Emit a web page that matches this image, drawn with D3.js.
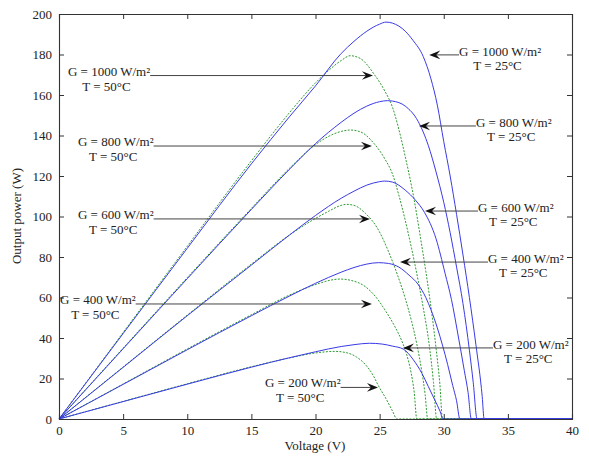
<!DOCTYPE html>
<meta charset="utf-8">
<script src="https://d3js.org/d3.v7.min.js"></script>
<style>
  body { margin: 0; background: #fff; }
  text { font-family: "Liberation Serif", "Times New Roman", serif; fill: #222; }
</style>
<div id="chart"></div>
<script>

// ---- data: voltage (V) and output power (W) ----
// T = 25 C (blue, solid)
var v1000a = [0, 5, 10, 15, 18, 20, 22, 23, 24, 25, 25.5, 26, 27, 27.6, 28.4, 29, 29.5, 30, 30.5, 31, 31.5, 32, 32.5, 33, 33.15, 40];
var p1000a = [0, 42.2, 84.3, 126, 149.5, 164.5, 180.5, 186.5, 191.5, 195, 196, 195.5, 191.5, 187, 179, 168, 155, 137, 120, 101, 81, 60, 37, 11, 0, 0];
var v800a = [0, 5, 10, 15, 18, 20, 22, 23, 24, 25, 25.6, 26, 27, 28, 28.8, 29.4, 30, 30.5, 31, 31.5, 32, 32.3, 32.6, 40];
var p800a = [0, 34.7, 69.3, 103.5, 123.5, 136, 146.5, 151, 154.5, 156.7, 157.2, 157, 154.5, 147, 135, 122, 107, 92, 75, 57, 34, 18, 0, 0];
var v600a = [0, 5, 10, 15, 18, 20, 22, 23, 24, 25, 25.4, 26, 27, 27.8, 28.5, 29.4, 30.1, 30.6, 31.1, 31.6, 31.9, 32.15, 40];
var p600a = [0, 25.5, 51, 76, 91, 100.5, 109, 112.5, 115.5, 117.2, 117.5, 117, 113, 108, 102, 89, 72, 59, 42, 24, 13, 0, 0];
var v400a = [0, 5, 10, 15, 18, 20, 22, 23, 24, 24.9, 25.7, 26.5, 27.3, 28, 28.6, 29, 29.5, 29.9, 30.3, 30.7, 31, 31.26, 40];
var p400a = [0, 17.1, 34.2, 51, 60.8, 67, 72.5, 74.8, 76.5, 77.2, 76.8, 75, 71, 66.5, 60, 54, 45, 36.5, 27, 16.5, 9, 0, 0];
var v200a = [0, 5, 10, 15, 18, 20, 22, 23, 24.2, 25.2, 26, 26.85, 27.6, 28.3, 28.8, 29.3, 29.7, 29.95, 40];
var p200a = [0, 8.6, 17.2, 25.6, 30.3, 33.2, 35.8, 36.7, 37.4, 37, 36, 34.5, 29.5, 22.5, 16, 9.4, 4, 0, 0];

// T = 50 C (green, dotted)
var v1000b = [0, 5, 10, 15, 18, 20, 21, 22, 22.7, 23.5, 24.6, 25.4, 26, 26.5, 27, 27.7, 28.2, 28.6, 28.9, 29.4, 29.7, 29.9, 40];
var p1000b = [0, 42.7, 85.3, 127.5, 151.5, 166, 172, 177, 179.4, 178, 170, 162, 154, 143, 129.5, 108, 89, 73, 60, 35, 17, 0, 0];
var v800b = [0, 5, 10, 15, 18, 20, 21, 22, 22.7, 23.5, 24.5, 25.4, 26, 26.5, 27, 27.5, 28, 28.4, 28.9, 29.2, 29.45, 40];
var p800b = [0, 35, 69.8, 104, 124, 135.5, 139.5, 142, 142.7, 141.8, 136.5, 128.5, 121, 110.5, 98, 84, 68.5, 55, 35, 18, 0, 0];
var v600b = [0, 5, 10, 15, 18, 19.8, 21, 22, 22.4, 23, 23.9, 24.8, 25.8, 26.4, 27, 27.5, 27.9, 28.3, 28.55, 28.75, 40];
var p600b = [0, 25.7, 51.3, 76.5, 91, 98.3, 102.5, 105.5, 106, 105.5, 101.5, 94.5, 81, 71, 59.5, 48, 37, 23, 12, 0, 0];
var v400b = [0, 5, 10, 15, 18, 20.3, 21.2, 21.9, 22.8, 23.9, 24.8, 25.5, 26.2, 26.7, 27.1, 27.45, 27.7, 27.9, 40];
var p400b = [0, 17.3, 34.6, 51.5, 61.3, 67, 68.6, 69.1, 68.4, 65.3, 59.5, 53, 45.5, 39, 32, 23, 13, 0, 0];
var v200b = [0, 5, 10, 15, 18, 20, 21.5, 22.5, 23.2, 23.9, 24.5, 24.9, 25.5, 26, 26.35, 40];
var p200b = [0, 8.7, 17.4, 25.8, 30.2, 32.6, 33.4, 32.6, 30.6, 26.8, 21.5, 16.5, 10, 4, 0, 0];

// axis ticks
var xTicks = [0, 5, 10, 15, 20, 25, 30, 35, 40];
var yTicks = [0, 20, 40, 60, 80, 100, 120, 140, 160, 180, 200];

// annotation texts
var gLabels = ["G = 1000 W/m²", "G = 800 W/m²", "G = 600 W/m²", "G = 400 W/m²", "G = 200 W/m²"];
var tLeft = "T = 50°C";
var tRight = "T = 25°C";

// ---- layout ----
var W = 589, H = 464;
var x0 = 59, x1 = 572, y0 = 419, y1 = 14;

var svg = d3.select("#chart").append("svg")
    .attr("width", W)
    .attr("height", H);

var x = d3.scaleLinear().domain([0, 40]).range([x0, x1]);
var y = d3.scaleLinear().domain([0, 200]).range([y0, y1]);

// curves
var line = d3.line()
    .x(function(d) { return x(d[0]); })
    .y(function(d) { return y(d[1]); })
    .curve(d3.curveMonotoneX);

function pairs(v, p) { return v.map(function(d, i) { return [d, p[i]]; }); }

var hot = [[v1000b, p1000b], [v800b, p800b], [v600b, p600b], [v400b, p400b], [v200b, p200b]];
var cold = [[v1000a, p1000a], [v800a, p800a], [v600a, p600a], [v400a, p400a], [v200a, p200a]];

hot.forEach(function(s) {
  svg.append("path")
    .datum(pairs(s[0], s[1]))
    .attr("d", line)
    .attr("fill", "none")
    .attr("stroke", "#2f9a34")
    .attr("stroke-width", 1)
    .attr("stroke-dasharray", "2,1.4");
});

cold.forEach(function(s) {
  svg.append("path")
    .datum(pairs(s[0], s[1]))
    .attr("d", line)
    .attr("fill", "none")
    .attr("stroke", "#3a3ae6")
    .attr("stroke-width", 1);
});

// axes box with inward ticks on all four sides (matlab style)
var tickLen = 5;
svg.append("g").attr("transform", "translate(0," + y0 + ")")
  .call(d3.axisBottom(x).tickValues(xTicks).tickSize(-tickLen).tickPadding(7).tickFormat(d3.format("d")));
svg.append("g").attr("transform", "translate(0," + y1 + ")")
  .call(d3.axisTop(x).tickValues(xTicks).tickSize(-tickLen).tickFormat(""));
svg.append("g").attr("transform", "translate(" + x0 + ",0)")
  .call(d3.axisLeft(y).tickValues(yTicks).tickSize(-tickLen).tickPadding(7));
svg.append("g").attr("transform", "translate(" + x1 + ",0)")
  .call(d3.axisRight(y).tickValues(yTicks).tickSize(-tickLen).tickFormat(""));

svg.selectAll(".domain").attr("stroke", "#333").attr("stroke-width", 1.1);
svg.selectAll(".tick line").attr("stroke", "#333");
svg.selectAll(".tick text")
  .style("font-family", "Liberation Serif, serif")
  .style("font-size", "13px")
  .attr("fill", "#222");

// axis titles
svg.append("text")
  .attr("x", 315).attr("y", 450)
  .attr("text-anchor", "middle")
  .style("font-size", "13px")
  .text("Voltage (V)");
svg.append("text")
  .attr("transform", "translate(21,216) rotate(-90)")
  .attr("text-anchor", "middle")
  .style("font-size", "13px")
  .text("Output power (W)");

// ---- annotations: text start, arrow level and arrow tip in data units ----
var leftTextV = [0.7, 1.48, 1.48, 0.08, 16.06];
var leftLineP = [169.6, 134.8, 98.8, 56.8, 15.6];
var leftTipV = [24.48, 24.4, 24.25, 24.4, 24.87];
var rightTextV = [31.19, 32.51, 32.67, 33.45, 33.84];
var rightLineP = [179.8, 144.7, 102.7, 77.5, 35.1];
var rightTipV = [28.87, 28.07, 28.54, 26.59, 26.82];

function arrowHead(g, tx, ty, dir) {
  // notched arrow head, tip at (tx,ty); dir = 1 points right, -1 points left
  var L = 11, h = 4.3, n = 7;
  g.append("path")
    .attr("d", "M" + tx + "," + ty +
      "L" + (tx - dir * L) + "," + (ty - h) +
      "L" + (tx - dir * n) + "," + ty +
      "L" + (tx - dir * L) + "," + (ty + h) + "Z")
    .attr("fill", "#111");
}

var ann = svg.append("g");

gLabels.forEach(function(lab, i) {
  // left side, T = 50 C, arrow to the right
  var ly = y(leftLineP[i]);
  var gt = ann.append("text")
    .attr("x", x(leftTextV[i])).attr("y", ly)
    .style("font-size", "13px")
    .text(lab);
  var w = gt.node().getComputedTextLength();
  ann.append("text")
    .attr("x", x(leftTextV[i]) + (w - 5) / 2).attr("y", ly + 15)
    .attr("text-anchor", "middle")
    .style("font-size", "13px")
    .text(tLeft);
  ann.append("line")
    .attr("x1", x(leftTextV[i]) + w).attr("y1", ly)
    .attr("x2", x(leftTipV[i]) - 7).attr("y2", ly)
    .attr("stroke", "#444").attr("stroke-width", 1);
  arrowHead(ann, x(leftTipV[i]), ly, 1);

  // right side, T = 25 C, arrow to the left
  var ry = y(rightLineP[i]);
  var rt = ann.append("text")
    .attr("x", x(rightTextV[i])).attr("y", ry + 1)
    .style("font-size", "13px")
    .text(lab);
  var rw = rt.node().getComputedTextLength();
  ann.append("text")
    .attr("x", x(rightTextV[i]) + (rw - 5) / 2).attr("y", ry + 15)
    .attr("text-anchor", "middle")
    .style("font-size", "13px")
    .text(tRight);
  ann.append("line")
    .attr("x1", x(rightTipV[i]) + 7).attr("y1", ry)
    .attr("x2", x(rightTextV[i])).attr("y2", ry)
    .attr("stroke", "#444").attr("stroke-width", 1);
  arrowHead(ann, x(rightTipV[i]), ry, -1);
});

</script>
